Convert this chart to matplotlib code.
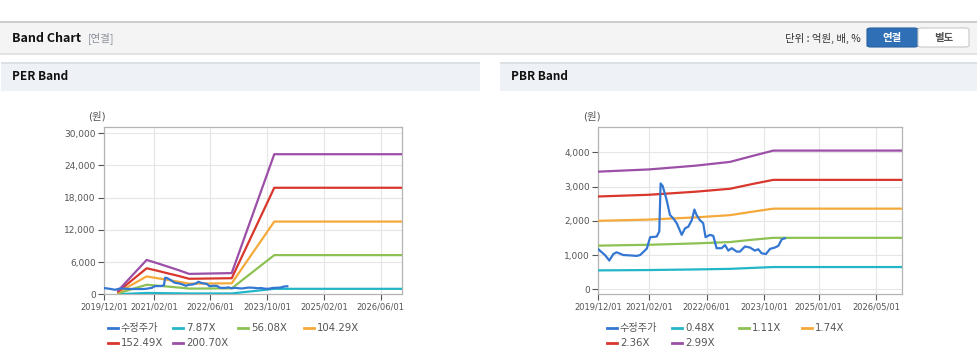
import matplotlib
matplotlib.use("Agg")
import matplotlib.pyplot as plt
import matplotlib.patches as mpatches
from matplotlib.lines import Line2D
from matplotlib.ticker import FuncFormatter
import pandas as pd

plt.rcParams["font.family"] = ["DejaVu Sans", "Noto Sans CJK KR"]

W, H = 978, 362

# adjusted share price (수정주가), shared by both panels
PRICE_DATES = ["2019-12-01", "2020-01-26", "2020-03-03", "2020-04-06", "2020-05-03",
               "2020-06-01", "2020-06-29", "2020-08-24", "2020-10-20", "2020-11-17",
               "2020-12-15", "2021-01-13", "2021-02-10", "2021-04-06", "2021-04-28",
               "2021-05-09", "2021-05-26", "2021-06-29", "2021-07-27", "2021-08-24",
               "2021-09-22", "2021-11-03", "2021-12-01", "2021-12-29", "2022-01-27",
               "2022-02-18", "2022-03-08", "2022-04-05", "2022-05-03", "2022-05-23",
               "2022-06-29", "2022-07-27", "2022-08-24", "2022-10-05", "2022-11-03",
               "2022-12-01", "2022-12-29", "2023-02-10", "2023-03-08", "2023-04-20",
               "2023-06-01", "2023-07-13", "2023-08-10", "2023-09-08", "2023-10-14",
               "2023-11-17", "2023-12-29", "2024-01-27", "2024-02-24", "2024-03-22"]
PRICE = [1170, 1000, 840, 1030, 1080, 1040, 1000, 990, 975, 1000,
         1090, 1190, 1520, 1540, 1690, 3090, 3020, 2610, 2170, 2070,
         1930, 1590, 1780, 1830, 2020, 2330, 2170, 2020, 1930, 1520,
         1590, 1560, 1200, 1200, 1290, 1130, 1200, 1100, 1100, 1250,
         1220, 1130, 1170, 1050, 1030, 1180, 1220, 1270, 1460, 1490]

# PER band
PER_DATES = ["2020-04-01", "2020-12-01", "2021-03-01", "2021-06-01", "2021-09-01",
             "2021-12-01", "2022-12-01", "2023-12-01", "2026-12-01"]
PER_7_87 = [25, 250, 230, 200, 180, 150, 155, 1020, 1020]
PER_56_08 = [200, 1780, 1620, 1440, 1260, 1060, 1110, 7300, 7300]
PER_104_29 = [360, 3330, 3010, 2680, 2340, 1980, 2050, 13550, 13550]
PER_152_49 = [530, 4850, 4400, 3900, 3420, 2890, 3000, 19850, 19850]
PER_200_70 = [700, 6400, 5800, 5150, 4500, 3800, 3950, 26100, 26100]
PER_LABELS = ["수정주가", "7.87X", "56.08X", "104.29X", "152.49X", "200.70X"]
PER_XTICKS = ["2019/12/01", "2021/02/01", "2022/06/01", "2023/10/01", "2025/02/01", "2026/06/01"]
PER_YTICKS = [0, 6000, 12000, 18000, 24000, 30000]

# PBR band
PBR_DATES = ["2019-12-01", "2021-02-01", "2022-03-01", "2022-12-15", "2023-06-30",
             "2023-12-15", "2026-12-01"]
PBR_0_48 = [552, 562, 580, 597, 626, 650, 650]
PBR_1_11 = [1275, 1300, 1340, 1380, 1450, 1503, 1503]
PBR_1_74 = [2000, 2035, 2100, 2165, 2270, 2355, 2355]
PBR_2_36 = [2710, 2760, 2850, 2935, 3080, 3195, 3195]
PBR_2_99 = [3435, 3500, 3610, 3720, 3900, 4050, 4050]
PBR_LABELS = ["수정주가", "0.48X", "1.11X", "1.74X", "2.36X", "2.99X"]
PBR_XTICKS = ["2019/12/01", "2021/02/01", "2022/06/01", "2023/10/01", "2025/01/01", "2026/05/01"]
PBR_YTICKS = [0, 1000, 2000, 3000, 4000]

COLORS = ["#3477d2", "#22b6c8", "#8dc153", "#f5a93b", "#d9362c", "#9b4fa6"]
INK, MUTED, SPINE, GRID = "#111111", "#555555", "#b4b4b4", "#e6e6e6"
X_START, X_END = pd.Timestamp("2019-12-01"), pd.Timestamp("2026-12-01")


def fx(x):
    return x / W


def fy(y):
    return 1 - y / H


def box(fig, x0, y0, x1, y1, **kw):
    fig.add_artist(mpatches.Rectangle((fx(x0), fy(y1)), (x1 - x0) / W, (y1 - y0) / H,
                                      transform=fig.transFigure, **kw))


def txt(fig, x, y, s, **kw):
    fig.text(fx(x), fy(y), s, **kw)


def draw_panel(fig, ax, band_dates, bands, yticks, ymin, ymax, xticks):
    d = pd.to_datetime(PRICE_DATES)
    bd = pd.to_datetime(band_dates)
    for vals, c in zip(bands, COLORS[1:]):
        ax.plot(bd, vals, color=c, linewidth=1.6, solid_joinstyle="round", zorder=3)
    ax.plot(d, PRICE, color=COLORS[0], linewidth=1.6, zorder=4)
    ax.set_xlim(X_START, X_END)
    ax.set_ylim(ymin, ymax)
    ax.set_yticks(yticks)
    ax.yaxis.set_major_formatter(FuncFormatter(lambda v, p: f"{int(v):,}"))
    ax.set_xticks(pd.to_datetime([t.replace("/", "-") for t in xticks]))
    ax.set_xticklabels(xticks)
    ax.tick_params(axis="y", labelsize=6.5, colors=MUTED, length=4, width=0.8, pad=2)
    ax.tick_params(axis="x", labelsize=6, colors=MUTED, length=4, width=0.8, pad=2)
    for s in ax.spines.values():
        s.set_color(SPINE)
        s.set_linewidth(0.9)
    ax.grid(True, color=GRID, linewidth=0.8)
    ax.set_axisbelow(True)


def draw_legend(fig, labels, cols, rows):
    slots = [(cols[0], rows[0]), (cols[1], rows[0]), (cols[2], rows[0]), (cols[3], rows[0]),
             (cols[0], rows[1]), (cols[1], rows[1])]
    for (x, y), lab, c in zip(slots, labels, COLORS):
        fig.add_artist(Line2D([fx(x - 13), fx(x - 3)], [fy(y), fy(y)], color=c,
                              linewidth=2.0, transform=fig.transFigure))
        txt(fig, x, y, lab, fontsize=7.3, color=MUTED, ha="left", va="center")


def main():
    fig = plt.figure(figsize=(W / 100, H / 100), dpi=100)
    fig.patch.set_facecolor("white")

    # top header bar
    box(fig, 0, 24, W, 55, facecolor="#e2e2e2", edgecolor="none")
    box(fig, 0, 22, W, 53, facecolor="#f4f4f4", edgecolor="none")
    box(fig, 0, 21.5, W, 23, facecolor="#cccccc", edgecolor="none")
    txt(fig, 12, 38, "Band Chart", fontsize=9, fontweight="bold", color=INK,
        family=["Noto Sans CJK KR"], va="center")
    txt(fig, 88, 38, "[연결]", fontsize=7.5, color="#8a909a",
        family=["Noto Sans CJK KR"], va="center")
    txt(fig, 861, 38, "단위 : 억원, 배, %", fontsize=7.5, color="#333333",
        family=["Noto Sans CJK KR"], va="center", ha="right")
    fig.add_artist(mpatches.FancyBboxPatch((fx(867), fy(47)), 51 / W, 19 / H,
                                           boxstyle="round,pad=0,rounding_size=0.004",
                                           transform=fig.transFigure,
                                           facecolor="#2f6fb5", edgecolor="#2a62a0", linewidth=0.8))
    fig.add_artist(mpatches.FancyBboxPatch((fx(918), fy(47)), 51 / W, 19 / H,
                                           boxstyle="round,pad=0,rounding_size=0.004",
                                           transform=fig.transFigure,
                                           facecolor="white", edgecolor="#c8c8c8", linewidth=0.8))
    txt(fig, 892.5, 37.5, "연결", fontsize=7.5, fontweight="bold", color="white",
        family=["Noto Sans CJK KR"], va="center", ha="center")
    txt(fig, 943.5, 37.5, "별도", fontsize=7.5, fontweight="bold", color="#555555",
        family=["Noto Sans CJK KR"], va="center", ha="center")

    # panel title strips
    for x0, x1, title in [(1, 480, "PER Band"), (500, W, "PBR Band")]:
        box(fig, x0, 62, x1, 91, facecolor="#eef1f5", edgecolor="none")
        box(fig, x0, 62, x1, 63.5, facecolor="#dcdfe4", edgecolor="none")
        txt(fig, x0 + 11, 77, title, fontsize=8.5, fontweight="bold", color=INK,
            family=["Noto Sans CJK KR"], va="center")

    ax1 = fig.add_axes([fx(104), fy(294.3), (402 - 104) / W, (294.3 - 127) / H])
    draw_panel(fig, ax1, PER_DATES, [PER_7_87, PER_56_08, PER_104_29, PER_152_49, PER_200_70],
               PER_YTICKS, 0, 31170, PER_XTICKS)
    txt(fig, 97, 116, "(원)", fontsize=7.5, color=MUTED, ha="center", va="center")
    draw_legend(fig, PER_LABELS, [121, 186, 251, 317], [328, 343])

    ax2 = fig.add_axes([fx(598.3), fy(294.3), (901.7 - 598.3) / W, (294.3 - 127.3) / H])
    draw_panel(fig, ax2, PBR_DATES, [PBR_0_48, PBR_1_11, PBR_1_74, PBR_2_36, PBR_2_99],
               PBR_YTICKS, -146, 4730, PBR_XTICKS)
    txt(fig, 592, 116, "(원)", fontsize=7.5, color=MUTED, ha="center", va="center")
    draw_legend(fig, PBR_LABELS, [620, 685, 752, 815], [328, 343])

    fig.savefig("out.png", dpi=100, facecolor=fig.get_facecolor())


if __name__ == "__main__":
    main()
